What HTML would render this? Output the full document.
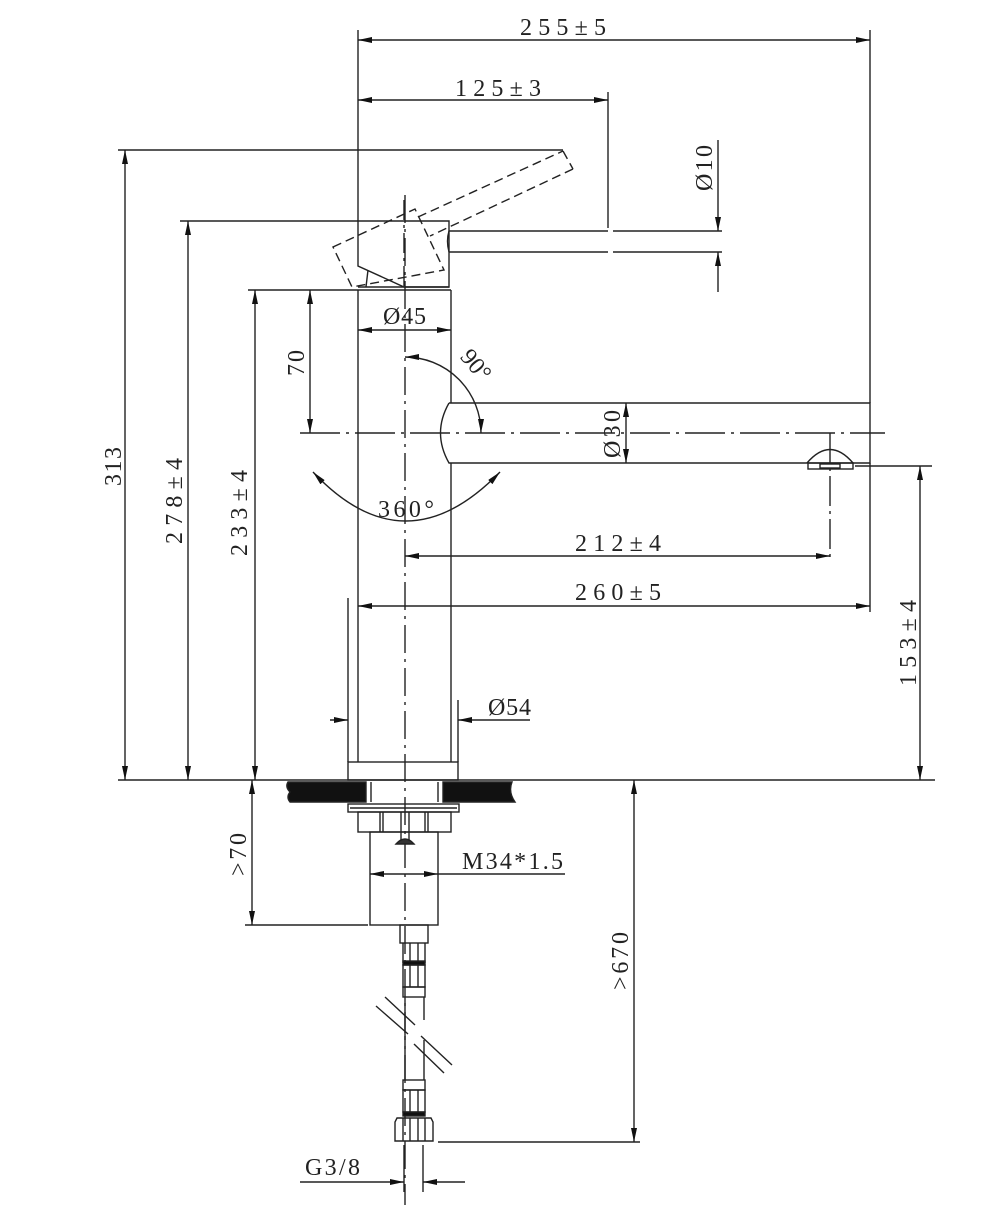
<!DOCTYPE html>
<html><head><meta charset="utf-8"><style>
html,body{margin:0;padding:0;background:#fff;}
svg{display:block;}
text{font-family:"Liberation Serif","DejaVu Serif",serif;font-size:24px;fill:#222;}
</style></head><body>
<svg width="992" height="1215" viewBox="0 0 992 1215" xmlns="http://www.w3.org/2000/svg">
<defs>
<marker id="a" viewBox="0 0 14 6" refX="14" refY="3" markerWidth="14" markerHeight="6" orient="auto-start-reverse" markerUnits="userSpaceOnUse"><path d="M0,0 L14,3 L0,6 z" fill="#111"/></marker>
</defs>
<g stroke="#222" stroke-width="1.4" fill="none">
<line x1="405" y1="195" x2="405" y2="1205" stroke-dasharray="28,6,3,6"/>
<line x1="300" y1="433" x2="885" y2="433" stroke-dasharray="40,6,3,6"/>
<line x1="830" y1="433" x2="830" y2="562" stroke-dasharray="30,5,3,5"/>
<line x1="358" y1="30" x2="358" y2="221"/>
<line x1="870" y1="30" x2="870" y2="403"/>
<line x1="608" y1="92" x2="608" y2="228"/>
<line x1="118" y1="150" x2="563" y2="150"/>
<line x1="180" y1="221" x2="358" y2="221"/>
<line x1="248" y1="290" x2="358" y2="290"/>
<line x1="613" y1="231" x2="722" y2="231"/>
<line x1="613" y1="252" x2="722" y2="252"/>
<line x1="855" y1="466" x2="932" y2="466"/>
<line x1="348" y1="598" x2="348" y2="762"/>
<line x1="458" y1="700" x2="458" y2="762"/>
<line x1="870" y1="463" x2="870" y2="612"/>
<line x1="118" y1="780" x2="935" y2="780"/>
<line x1="245" y1="925" x2="368" y2="925"/>
<line x1="438" y1="1142" x2="640" y2="1142"/>
<polygon points="358,221 449,221 449,287 404,287 358,266"/>
<line x1="368" y1="270" x2="366" y2="287"/>
<line x1="358" y1="287" x2="449" y2="287"/>
<path d="M449,231 L608,231 M449,252 L608,252 M449,231 Q446,241 449,252"/>
<g stroke-dasharray="9,5">
<polygon points="333,247 415,209 444,270 352,287"/>
<line x1="418" y1="217" x2="563" y2="151"/>
<line x1="563" y1="151" x2="573" y2="169"/>
<line x1="573" y1="169" x2="430" y2="236"/>
</g>
<line x1="404" y1="200" x2="404" y2="290" stroke-dasharray="20,5,3,5"/>
<line x1="358" y1="290" x2="451" y2="290"/>
<line x1="358" y1="290" x2="358" y2="762"/>
<line x1="451" y1="290" x2="451" y2="403"/>
<line x1="451" y1="463" x2="451" y2="762"/>
<rect x="348" y="762" width="110" height="18"/>
<path d="M449,403 L870,403 L870,463 L449,463 Q432,433 449,403"/>
<path d="M807,463 Q830,436 853,463"/>
<rect x="808" y="463" width="45" height="6"/>
<rect x="820" y="464" width="20" height="4"/>
<path d="M288,782 L366,782 L366,802 L290,802 Q286,797 290,792 Q285,787 288,782 z" fill="#111"/>
<path d="M443,782 L512,782 Q508,792 515,802 L443,802 z" fill="#111"/>
<line x1="371" y1="782" x2="371" y2="802"/>
<line x1="438" y1="782" x2="438" y2="802"/>
<rect x="348" y="804" width="111" height="8"/>
<line x1="350" y1="808" x2="457" y2="808"/>
<rect x="358" y="812" width="93" height="20"/>
<line x1="380" y1="812" x2="380" y2="832"/><line x1="383" y1="812" x2="383" y2="832"/>
<line x1="425" y1="812" x2="425" y2="832"/><line x1="428" y1="812" x2="428" y2="832"/>
<line x1="401" y1="812" x2="401" y2="840"/><line x1="409" y1="812" x2="409" y2="840"/>
<path d="M396,844 Q405,834 414,844 z" fill="#333"/>
<rect x="370" y="832" width="68" height="93"/>
<rect x="400" y="925" width="28" height="18"/>
<line x1="403" y1="943" x2="403" y2="963"/><line x1="425" y1="943" x2="425" y2="963"/>
<line x1="410" y1="943" x2="410" y2="963"/><line x1="418" y1="943" x2="418" y2="963"/>
<rect x="403" y="961" width="22" height="4" fill="#111"/>
<rect x="403" y="965" width="22" height="22"/>
<line x1="410" y1="965" x2="410" y2="987"/><line x1="418" y1="965" x2="418" y2="987"/>
<rect x="403" y="987" width="22" height="10"/>
<line x1="405" y1="997" x2="405" y2="1033"/><line x1="424" y1="997" x2="424" y2="1020"/>
<line x1="405" y1="1036" x2="405" y2="1080"/><line x1="424" y1="1040" x2="424" y2="1080"/>
<line x1="376" y1="1006" x2="408" y2="1034"/>
<line x1="385" y1="997" x2="415" y2="1025"/>
<line x1="414" y1="1044" x2="444" y2="1073"/>
<line x1="421" y1="1036" x2="452" y2="1065"/>
<rect x="403" y="1080" width="22" height="10"/>
<rect x="403" y="1090" width="22" height="22"/>
<line x1="410" y1="1090" x2="410" y2="1112"/><line x1="418" y1="1090" x2="418" y2="1112"/>
<rect x="403" y="1112" width="22" height="4" fill="#111"/>
<path d="M397,1118 L431,1118 L433,1122 L433,1141 L395,1141 L395,1122 z"/>
<line x1="403" y1="1118" x2="403" y2="1141"/><line x1="425" y1="1118" x2="425" y2="1141"/>
<line x1="410" y1="1118" x2="410" y2="1141"/><line x1="418" y1="1118" x2="418" y2="1141"/>
<line x1="404" y1="1145" x2="404" y2="1192"/><line x1="423" y1="1145" x2="423" y2="1192"/>
<g marker-start="url(#a)" marker-end="url(#a)">
<line x1="358" y1="40" x2="870" y2="40"/>
<line x1="358" y1="100" x2="608" y2="100"/>
<line x1="358" y1="330" x2="451" y2="330"/>
<line x1="310" y1="290" x2="310" y2="433"/>
<line x1="626" y1="403" x2="626" y2="463"/>
<line x1="405" y1="556" x2="830" y2="556"/>
<line x1="358" y1="606" x2="870" y2="606"/>
<line x1="920" y1="466" x2="920" y2="780"/>
<line x1="125" y1="150" x2="125" y2="780"/>
<line x1="188" y1="221" x2="188" y2="780"/>
<line x1="255" y1="290" x2="255" y2="780"/>
<line x1="252" y1="780" x2="252" y2="925"/>
<line x1="634" y1="780" x2="634" y2="1142"/>
<line x1="370" y1="874" x2="438" y2="874"/>
<path d="M405,357 A76,76 0 0 1 481,433"/>
<path d="M313,472 Q405,570 500,472"/>
</g>
<line x1="438" y1="874" x2="565" y2="874"/>
<line x1="718" y1="140" x2="718" y2="231" marker-end="url(#a)"/>
<line x1="718" y1="292" x2="718" y2="252" marker-end="url(#a)"/>
<line x1="330" y1="720" x2="348" y2="720" marker-end="url(#a)"/>
<line x1="530" y1="720" x2="458" y2="720" marker-end="url(#a)"/>
<line x1="300" y1="1182" x2="404" y2="1182" marker-end="url(#a)"/>
<line x1="465" y1="1182" x2="423" y2="1182" marker-end="url(#a)"/>
</g>
<g>
<text x="520" y="35" textLength="86" lengthAdjust="spacing">255±5</text>
<text x="455" y="96" textLength="86" lengthAdjust="spacing">125±3</text>
<text x="383" y="324" textLength="43" lengthAdjust="spacing">Ø45</text>
<text x="575" y="551" textLength="86" lengthAdjust="spacing">212±4</text>
<text x="575" y="600" textLength="86" lengthAdjust="spacing">260±5</text>
<text x="488" y="715" textLength="43" lengthAdjust="spacing">Ø54</text>
<text x="462" y="869" textLength="101" lengthAdjust="spacing">M34*1.5</text>
<text x="305" y="1175" textLength="55" lengthAdjust="spacing">G3/8</text>
<text x="378" y="517" textLength="56" lengthAdjust="spacing">360°</text>
<text transform="translate(470,370) rotate(50)" text-anchor="middle">90°</text>
<text transform="translate(712,191) rotate(-90)" textLength="46" lengthAdjust="spacing">Ø10</text>
<text transform="translate(620,458) rotate(-90)" textLength="48" lengthAdjust="spacing">Ø30</text>
<text transform="translate(304,376) rotate(-90)" textLength="26" lengthAdjust="spacing">70</text>
<text transform="translate(121,486) rotate(-90)" textLength="39" lengthAdjust="spacing">313</text>
<text transform="translate(182,544) rotate(-90)" textLength="86" lengthAdjust="spacing">278±4</text>
<text transform="translate(247,556) rotate(-90)" textLength="86" lengthAdjust="spacing">233±4</text>
<text transform="translate(916,686) rotate(-90)" textLength="86" lengthAdjust="spacing">153±4</text>
<text transform="translate(246,876) rotate(-90)" textLength="43" lengthAdjust="spacing">&gt;70</text>
<text transform="translate(628,990) rotate(-90)" textLength="58" lengthAdjust="spacing">&gt;670</text>
</g>
</svg>
</body></html>
